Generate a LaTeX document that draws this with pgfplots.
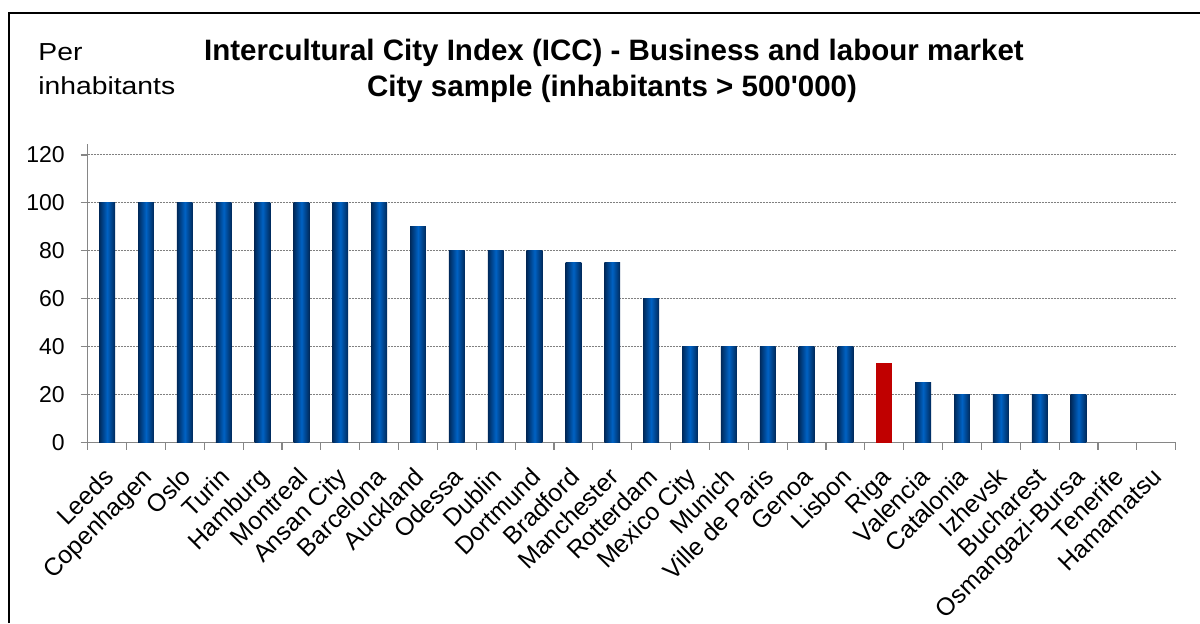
\documentclass[border=0pt]{standalone}
\usepackage{fontspec}
\setmainfont{Liberation Sans}
\usepackage{graphicx}
\usepackage{pgfplots}
\pgfplotsset{compat=1.18}
\definecolor{barDark}{HTML}{00295A}
\definecolor{barLight}{HTML}{0062C4}
\definecolor{rigaRed}{HTML}{C00000}
\definecolor{axisGray}{HTML}{868686}
\pgfplotsset{cyl/.style={ybar, bar width=7.9pt, bar shift=0pt, draw=none, left color=barDark, right color=barDark, middle color=barLight}}
\begin{document}
\begin{tikzpicture}[x=1pt,y=1pt]
\path[use as bounding box] (0,0) rectangle (600,311.5);
\draw[line width=1pt] (4.65,0) -- (4.65,304.85) -- (600,304.85);
\node[anchor=base,font=\bfseries\fontsize{14.75}{18}\selectfont,inner sep=0pt] at (307,281) {Intercultural City Index (ICC) - Business and labour market};
\node[anchor=base,font=\bfseries\fontsize{14.75}{18}\selectfont,inner sep=0pt] at (306,263.5) {City sample (inhabitants > 500\textquotesingle 000)};
\node[anchor=base west,font=\fontsize{12.3}{14}\selectfont,inner sep=0pt] at (19,281) {\scalebox{1.15}[1]{Per}};
\node[anchor=base west,font=\fontsize{12.3}{14}\selectfont,inner sep=0pt] at (19,264.5) {\scalebox{1.15}[1]{inhabitants}};
\begin{axis}[
  at={(43.85pt,90.25pt)}, anchor=south west,
  width=544pt, height=149.4pt, scale only axis,
  xmin=-0.5, xmax=27.5, ymin=0, ymax=124.7,
  ytick={0,20,...,120},
  xtick={0,...,27},
  xticklabels={Leeds,Copenhagen,Oslo,Turin,Hamburg,Montreal,Ansan City,Barcelona,Auckland,Odessa,Dublin,Dortmund,Bradford,Manchester,Rotterdam,Mexico City,Munich,Ville de Paris,Genoa,Lisbon,Riga,Valencia,Catalonia,Izhevsk,Bucharest,Osmangazi-Bursa,Tenerife,Hamamatsu},
  minor xtick={-0.5,0.5,...,27.5},
  axis x line*=bottom, axis y line*=left,
  axis line style={axisGray, line width=0.6pt, -},
  tick align=outside,
  major tick length=3.5pt, minor tick length=3.5pt,
  tick style={axisGray, line width=0.6pt},
  every major x tick/.append style={draw=none},
  ymajorgrids,
  grid style={gray, line width=0.5pt, dash pattern=on 1pt off 0.5pt},
  yticklabel style={font=\fontsize{11.5}{13}\selectfont, xshift=-4.5pt},
  xticklabel style={font=\fontsize{12.4}{14}\selectfont, rotate=45, anchor=north east, inner sep=0pt, xshift=-7.5pt, yshift=-4pt},
  /pgf/number format/assume math mode=true,
]
\addplot[cyl] coordinates {(0,100)};
\addplot[cyl] coordinates {(1,100)};
\addplot[cyl] coordinates {(2,100)};
\addplot[cyl] coordinates {(3,100)};
\addplot[cyl] coordinates {(4,100)};
\addplot[cyl] coordinates {(5,100)};
\addplot[cyl] coordinates {(6,100)};
\addplot[cyl] coordinates {(7,100)};
\addplot[cyl] coordinates {(8,90)};
\addplot[cyl] coordinates {(9,80)};
\addplot[cyl] coordinates {(10,80)};
\addplot[cyl] coordinates {(11,80)};
\addplot[cyl] coordinates {(12,75)};
\addplot[cyl] coordinates {(13,75)};
\addplot[cyl] coordinates {(14,60)};
\addplot[cyl] coordinates {(15,40)};
\addplot[cyl] coordinates {(16,40)};
\addplot[cyl] coordinates {(17,40)};
\addplot[cyl] coordinates {(18,40)};
\addplot[cyl] coordinates {(19,40)};
\addplot[ybar, bar width=7.9pt, bar shift=0pt, draw=none, fill=rigaRed] coordinates {(20,33)};
\addplot[cyl] coordinates {(21,25)};
\addplot[cyl] coordinates {(22,20)};
\addplot[cyl] coordinates {(23,20)};
\addplot[cyl] coordinates {(24,20)};
\addplot[cyl] coordinates {(25,20)};
\end{axis}
\end{tikzpicture}
\end{document}
